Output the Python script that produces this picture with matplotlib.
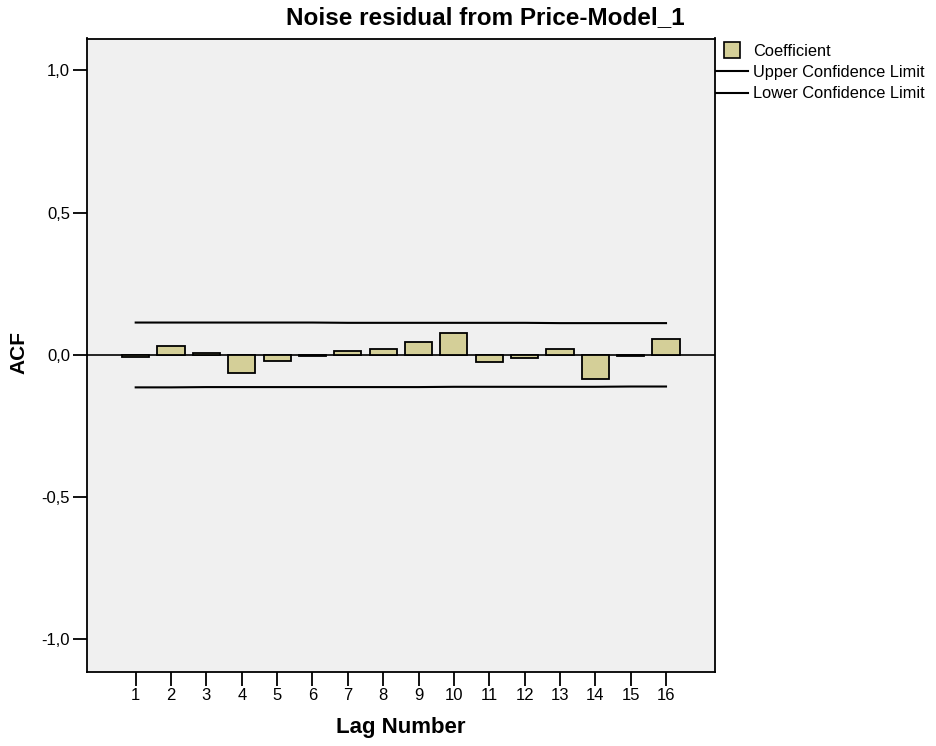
import matplotlib
matplotlib.use("Agg")
import matplotlib.pyplot as plt
from matplotlib.lines import Line2D
from matplotlib.ticker import FuncFormatter

plt.rcParams['font.family'] = ['Liberation Sans', 'DejaVu Sans']

lags = list(range(1, 17))
acf = [-0.007, 0.032, 0.006, -0.066, -0.022, -0.006, 0.012, 0.020,
       0.045, 0.076, -0.026, -0.012, 0.021, -0.085, -0.005, 0.054]
upper = [0.113, 0.113, 0.113, 0.113, 0.113, 0.113, 0.112, 0.112,
         0.112, 0.112, 0.112, 0.112, 0.111, 0.111, 0.111, 0.111]
lower = [-0.115, -0.115, -0.114, -0.114, -0.114, -0.114, -0.114, -0.114,
         -0.114, -0.113, -0.113, -0.113, -0.113, -0.113, -0.112, -0.112]
yticks = [-1.0, -0.5, 0.0, 0.5, 1.0]

title = "Noise residual from Price-Model_1"
bar_color = "#D4CF98"
bg = "#F0F0F0"

W, H = 936, 746
fig = plt.figure(figsize=(W / 100, H / 100), dpi=100)
ax = fig.add_axes([86.7 / W, 1 - 671.7 / H, (715 - 86.7) / W, (671.7 - 38.5) / H])
ax.set_facecolor(bg)

ax.bar(lags, acf, width=0.77, color=bar_color, edgecolor="black", linewidth=1.3, zorder=3)
ax.axhline(0, color="black", linewidth=1.2, zorder=2)
ax.plot(lags, upper, color="black", linewidth=1.5, zorder=2)
ax.plot(lags, lower, color="black", linewidth=1.5, zorder=2)

ax.set_xlim(-0.386, 17.386)
ax.set_ylim(-1.115, 1.112)
ax.set_xticks(lags)
ax.set_xticklabels([str(l) for l in lags])
ax.set_yticks(yticks)
ax.yaxis.set_major_formatter(FuncFormatter(lambda v, p: f"{v:.1f}".replace(".", ",")))

for s in ax.spines.values():
    s.set_linewidth(1.3)
ax.tick_params(axis='both', direction='out', length=10, width=1.3, labelsize=12,
               colors='black')
ax.tick_params(axis='x', pad=2)
ax.tick_params(axis='y', pad=2)

fig.text(485 / W, 1 - 18 / H, title, fontsize=17.5, fontweight='bold',
         ha='center', va='center')
fig.text(401 / W, 1 - 727 / H, "Lag Number", fontsize=16, fontweight='bold',
         ha='center', va='center')
fig.text(19 / W, 1 - 352 / H, "ACF", fontsize=15, fontweight='bold',
         ha='center', va='center', rotation=90)

handles = [
    Line2D([], [], linestyle='none', marker='s', markersize=11.5,
           markerfacecolor=bar_color, markeredgecolor='black', markeredgewidth=1.2),
    Line2D([], [], color='black', linewidth=1.5),
    Line2D([], [], color='black', linewidth=1.5),
]
labels = ["Coefficient", "Upper Confidence Limit", "Lower Confidence Limit"]
fig.legend(handles, labels, loc='upper left', bbox_to_anchor=(716 / W, 1 - 44 / H),
           borderaxespad=0, borderpad=0, frameon=False, handlelength=1.95,
           handletextpad=0.3, labelspacing=0.38, fontsize=11.8)

fig.savefig("out.png", dpi=100)
